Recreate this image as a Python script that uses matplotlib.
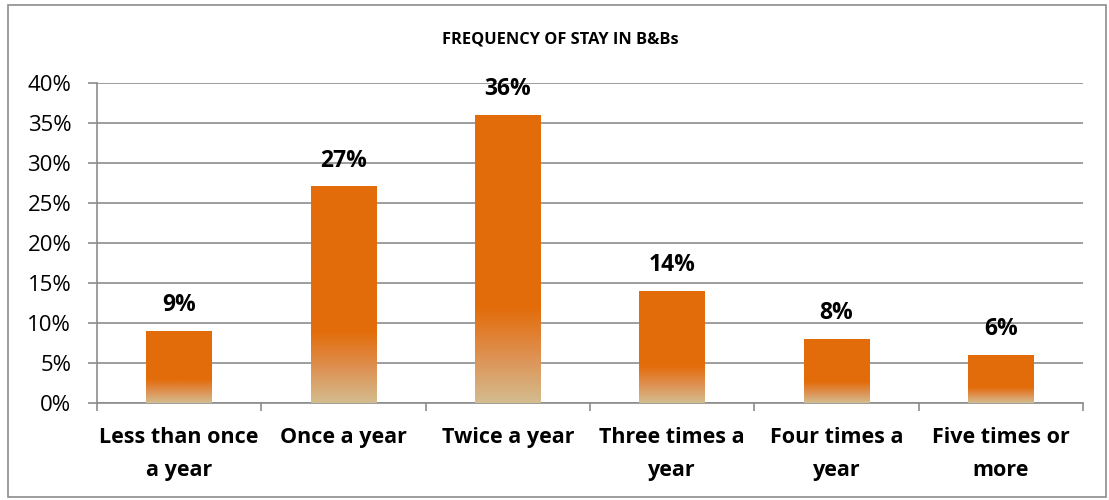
import numpy as np
import matplotlib.pyplot as plt
from matplotlib.colors import LinearSegmentedColormap
from matplotlib.patches import Rectangle

# Data
categories = ["Less than once\na year", "Once a year", "Twice a year",
              "Three times a\nyear", "Four times a\nyear", "Five times or\nmore"]
values = [9, 27, 36, 14, 8, 6]
yticks = [0, 5, 10, 15, 20, 25, 30, 35, 40]

plt.rcParams['font.family'] = ['Open Sans', 'DejaVu Sans']

fig = plt.figure(figsize=(11.09, 5.0), dpi=100)
ax = fig.add_axes([97/1109, 1 - 403/500, (1083 - 97)/1109, (403 - 83)/500])

# outer chart border
fig.patches.append(Rectangle((8/1109, 3/500), 1098/1109, 492/500, transform=fig.transFigure,
                             fill=False, edgecolor='#8c8c8c', linewidth=1.2))

x = np.arange(len(categories))
width = 0.4
bars = ax.bar(x, values, width=width, color='none', zorder=3)

# orange on top, fading to tan over the lower third of each bar
cmap = LinearSegmentedColormap.from_list('bb', [(0, '#D4BC8E'), (0.5, '#DE9050'), (1, '#E36C0A')])
for b in bars:
    h = b.get_height()
    x0 = b.get_x()
    g = np.clip(np.linspace(h, 0, 200) / (0.33 * h), 0, 1)[:, None]
    ax.imshow(g, cmap=cmap, vmin=0, vmax=1, aspect='auto',
              extent=[x0, x0 + b.get_width(), 0, h], zorder=3, interpolation='bilinear')

for xi, v in zip(x, values):
    ax.text(xi, v + 3.3, f"{v}%", ha='center', va='center', fontsize=16.5, fontweight='bold')

ax.set_xlim(-0.5, len(categories) - 0.5)
ax.set_ylim(0, 40)
ax.set_yticks(yticks)
ax.set_yticklabels([f"{t}%" for t in yticks], fontsize=16)
ax.yaxis.grid(True, color='#8c8c8c', linewidth=1.2, zorder=0)
ax.set_axisbelow(True)

ax.set_xticks(x)
ax.set_xticklabels(categories, fontsize=15.5, fontweight='bold', linespacing=1.75)
ax.set_xticks(np.arange(len(categories) + 1) - 0.5, minor=True)
ax.tick_params(axis='x', which='major', length=0, pad=17)
ax.tick_params(axis='x', which='minor', length=6, color='#8c8c8c', width=1.2)
ax.tick_params(axis='y', length=6.5, color='#8c8c8c', width=1.2, pad=12)

for s in ['top', 'right']:
    ax.spines[s].set_visible(False)
for s in ['left', 'bottom']:
    ax.spines[s].set_color('#8c8c8c')
    ax.spines[s].set_linewidth(1.2)

fig.text(560/1109, 1 - 40/500, "FREQUENCY OF STAY IN B&Bs", ha='center', va='center',
         fontsize=11.8, fontweight='bold')

fig.savefig("out.png", dpi=100)
